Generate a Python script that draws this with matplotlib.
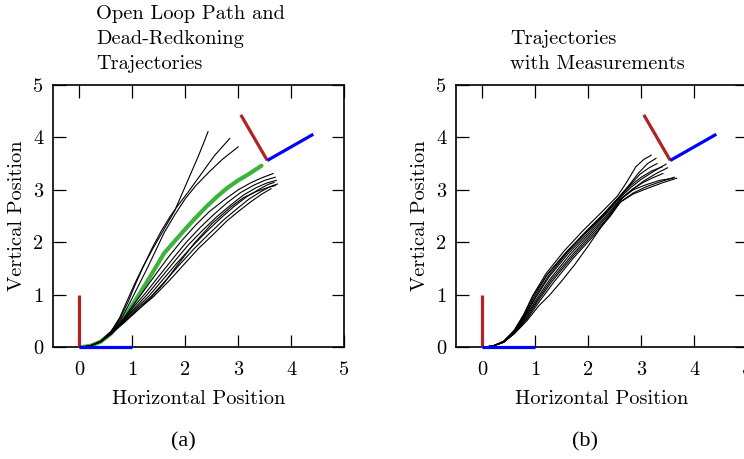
import matplotlib
matplotlib.use("Agg")
import matplotlib.pyplot as plt

# ---------------- data ----------------
tick_values = [0, 1, 2, 3, 4, 5]
tick_labels = ["0", "1", "2", "3", "4", "5"]

# body frames (start pose and goal pose), unit-length axes
frame_start = (0.0, 0.0)
frame_start_xaxis = (1.0, 0.0)
frame_start_yaxis = (0.0, 1.0)
frame_goal = (3.55, 3.56)
frame_goal_xaxis = (4.42, 4.06)
frame_goal_yaxis = (3.05, 4.43)

# open loop path (panel a)
open_x = [0.05, 0.2, 0.4, 0.6, 0.78, 0.95, 1.1, 1.25, 1.4, 1.6, 1.8, 2.0, 2.2, 2.4, 2.6, 2.8, 3.0, 3.2, 3.44]
open_y = [0.0, 0.02, 0.1, 0.26, 0.48, 0.72, 0.96, 1.2, 1.45, 1.79, 2.02, 2.25, 2.47, 2.68, 2.87, 3.04, 3.18, 3.3, 3.46]

# dead-reckoning trajectories (panel a)
dr1_x = [0.05, 0.2, 0.4, 0.6, 0.76, 0.9, 1.05, 1.2, 1.4, 1.6, 1.8, 1.95, 2.1, 2.25, 2.35, 2.43]
dr1_y = [0.0, 0.02, 0.11, 0.3, 0.56, 0.88, 1.22, 1.53, 1.9, 2.25, 2.6, 2.95, 3.3, 3.65, 3.9, 4.11]
dr2_x = [0.05, 0.2, 0.4, 0.6, 0.77, 0.92, 1.05, 1.2, 1.38, 1.55, 1.72, 1.86, 2.05, 2.3, 2.55, 2.84]
dr2_y = [0.0, 0.02, 0.11, 0.3, 0.55, 0.86, 1.18, 1.52, 1.9, 2.22, 2.5, 2.7, 2.95, 3.3, 3.65, 3.98]
dr3_x = [0.05, 0.2, 0.4, 0.6, 0.78, 0.95, 1.12, 1.28, 1.45, 1.6, 1.8, 2.0, 2.2, 2.45, 2.7, 3.0]
dr3_y = [0.0, 0.02, 0.1, 0.28, 0.52, 0.84, 1.18, 1.5, 1.86, 2.18, 2.52, 2.83, 3.08, 3.34, 3.58, 3.82]
dr4_x = [0.05, 0.2, 0.4, 0.6, 0.8, 1.0, 1.2, 1.45, 1.7, 1.95, 2.2, 2.45, 2.74, 3.0, 3.25, 3.45, 3.66]
dr4_y = [0.0, 0.02, 0.1, 0.27, 0.5, 0.78, 1.05, 1.4, 1.74, 2.05, 2.33, 2.58, 2.81, 3.0, 3.14, 3.23, 3.31]
dr5_x = [0.05, 0.2, 0.4, 0.6, 0.8, 1.02, 1.25, 1.5, 1.76, 2.02, 2.28, 2.54, 2.8, 3.05, 3.3, 3.5, 3.7]
dr5_y = [0.0, 0.02, 0.1, 0.26, 0.49, 0.76, 1.03, 1.35, 1.68, 2.0, 2.28, 2.53, 2.76, 2.95, 3.09, 3.18, 3.24]
dr6_x = [0.05, 0.2, 0.4, 0.6, 0.8, 1.04, 1.28, 1.54, 1.8, 2.06, 2.34, 2.6, 2.86, 3.1, 3.34, 3.54, 3.72]
dr6_y = [0.0, 0.02, 0.1, 0.26, 0.48, 0.74, 1.0, 1.32, 1.64, 1.95, 2.24, 2.49, 2.71, 2.9, 3.04, 3.13, 3.18]
dr7_x = [0.05, 0.2, 0.4, 0.6, 0.81, 1.06, 1.32, 1.58, 1.85, 2.12, 2.4, 2.66, 2.92, 3.15, 3.38, 3.56, 3.68]
dr7_y = [0.0, 0.02, 0.1, 0.26, 0.48, 0.73, 0.98, 1.29, 1.61, 1.91, 2.2, 2.45, 2.68, 2.86, 3.0, 3.1, 3.14]
dr8_x = [0.05, 0.2, 0.4, 0.6, 0.82, 1.08, 1.36, 1.63, 1.9, 2.18, 2.46, 2.72, 2.98, 3.2, 3.42, 3.6, 3.74]
dr8_y = [0.0, 0.02, 0.1, 0.25, 0.47, 0.72, 0.97, 1.27, 1.58, 1.89, 2.17, 2.42, 2.64, 2.82, 2.96, 3.06, 3.11]
dr9_x = [0.05, 0.2, 0.4, 0.6, 0.83, 1.1, 1.4, 1.7, 1.98, 2.25, 2.52, 2.78, 3.02, 3.25, 3.45, 3.62]
dr9_y = [0.0, 0.02, 0.1, 0.25, 0.47, 0.71, 0.96, 1.27, 1.58, 1.88, 2.14, 2.4, 2.6, 2.78, 2.92, 3.02]
dr10_x = [0.05, 0.2, 0.4, 0.6, 0.84, 1.1, 1.35, 1.6, 1.85, 2.17, 2.5, 2.87, 3.1, 3.35, 3.55, 3.7]
dr10_y = [0.0, 0.02, 0.1, 0.25, 0.46, 0.7, 0.94, 1.22, 1.56, 1.98, 2.35, 2.68, 2.85, 2.97, 3.04, 3.08]

# trajectories with measurements (panel b)
m1_x = [0.05, 0.2, 0.4, 0.6, 0.78, 0.95, 1.2, 1.55, 1.9, 2.25, 2.55, 2.71, 2.9, 3.05, 3.19]
m1_y = [0.0, 0.02, 0.11, 0.32, 0.62, 0.98, 1.4, 1.84, 2.22, 2.57, 2.88, 3.12, 3.44, 3.58, 3.66]
m2_x = [0.05, 0.2, 0.4, 0.6, 0.79, 0.97, 1.22, 1.58, 1.95, 2.28, 2.58, 2.78, 2.95, 3.12, 3.28]
m2_y = [0.0, 0.02, 0.1, 0.3, 0.6, 0.95, 1.37, 1.8, 2.2, 2.53, 2.86, 3.1, 3.32, 3.5, 3.6]
m3_x = [0.05, 0.2, 0.4, 0.6, 0.8, 1.0, 1.26, 1.62, 2.0, 2.3, 2.58, 2.8, 3.0, 3.25, 3.47]
m3_y = [0.0, 0.02, 0.1, 0.29, 0.58, 0.93, 1.34, 1.78, 2.18, 2.5, 2.83, 3.04, 3.2, 3.36, 3.49]
m4_x = [0.05, 0.2, 0.4, 0.6, 0.81, 1.02, 1.28, 1.65, 2.02, 2.32, 2.6, 2.85, 3.05, 3.3, 3.5]
m4_y = [0.0, 0.02, 0.1, 0.28, 0.57, 0.91, 1.3, 1.76, 2.16, 2.48, 2.82, 3.02, 3.17, 3.32, 3.42]
m5_x = [0.05, 0.2, 0.4, 0.6, 0.82, 1.04, 1.3, 1.68, 2.05, 2.35, 2.6, 2.82, 3.02, 3.22, 3.41]
m5_y = [0.0, 0.02, 0.09, 0.27, 0.56, 0.9, 1.28, 1.74, 2.15, 2.48, 2.8, 3.0, 3.13, 3.23, 3.31]
m6_x = [0.05, 0.2, 0.4, 0.6, 0.83, 1.05, 1.32, 1.7, 2.08, 2.4, 2.62, 2.85, 3.1, 3.38, 3.63]
m6_y = [0.0, 0.02, 0.09, 0.26, 0.54, 0.88, 1.26, 1.72, 2.14, 2.5, 2.78, 2.94, 3.06, 3.16, 3.24]
m7_x = [0.05, 0.2, 0.4, 0.6, 0.84, 1.07, 1.35, 1.72, 2.1, 2.42, 2.6, 2.85, 3.15, 3.42, 3.67]
m7_y = [0.0, 0.02, 0.09, 0.26, 0.53, 0.86, 1.24, 1.7, 2.12, 2.5, 2.76, 2.92, 3.04, 3.14, 3.22]
m8_x = [0.05, 0.2, 0.4, 0.6, 0.8, 1.0, 1.25, 1.6, 1.98, 2.3, 2.58, 2.8, 3.0, 3.2, 3.4]
m8_y = [0.0, 0.02, 0.1, 0.3, 0.6, 0.96, 1.36, 1.8, 2.2, 2.52, 2.85, 3.08, 3.24, 3.36, 3.44]
m9_x = [0.05, 0.2, 0.4, 0.6, 0.78, 0.96, 1.22, 1.6, 1.98, 2.3, 2.58, 2.78, 2.98, 3.15, 3.3]
m9_y = [0.0, 0.02, 0.11, 0.31, 0.61, 0.98, 1.38, 1.83, 2.22, 2.55, 2.86, 3.08, 3.3, 3.42, 3.5]
m10_x = [0.05, 0.2, 0.4, 0.6, 0.84, 1.06, 1.26, 1.49, 1.75, 2.0, 2.25, 2.52, 2.65, 2.85, 3.1, 3.35, 3.6]
m10_y = [0.0, 0.02, 0.09, 0.25, 0.5, 0.78, 0.98, 1.25, 1.58, 1.93, 2.3, 2.68, 2.85, 3.0, 3.1, 3.18, 3.22]

dead_reckoning = [(dr1_x, dr1_y), (dr2_x, dr2_y), (dr3_x, dr3_y), (dr4_x, dr4_y), (dr5_x, dr5_y),
                  (dr6_x, dr6_y), (dr7_x, dr7_y), (dr8_x, dr8_y), (dr9_x, dr9_y), (dr10_x, dr10_y)]
measured = [(m1_x, m1_y), (m2_x, m2_y), (m3_x, m3_y), (m4_x, m4_y), (m5_x, m5_y),
            (m6_x, m6_y), (m7_x, m7_y), (m8_x, m8_y), (m9_x, m9_y), (m10_x, m10_y)]

title_a = "Open Loop Path and\nDead-Redkoning\nTrajectories"
title_b = "Trajectories\nwith Measurements"

# ---------------- style ----------------
plt.rcParams['font.family'] = ['cmr10', 'DejaVu Serif']
plt.rcParams['axes.formatter.use_mathtext'] = True
FS = 14.7
RED = "#b22222"
BLUE = "#0000ff"
GREEN = "#3cb43c"

fig = plt.figure(figsize=(7.44, 4.59), dpi=100)
W, H = 744.0, 459.0
axw, axh = 291 / W, 262 / H
bottom = 1 - 347 / H
ax_a = fig.add_axes([53 / W, bottom, axw, axh])
ax_b = fig.add_axes([456 / W, bottom, axw, axh])


def draw_frames(ax):
    ax.plot([frame_start[0], frame_start_yaxis[0]], [frame_start[1], frame_start_yaxis[1]],
            color=RED, lw=2.3, solid_capstyle='butt', zorder=4, clip_on=False)
    ax.plot([frame_start[0], frame_start_xaxis[0]], [frame_start[1], frame_start_xaxis[1]],
            color=BLUE, lw=2.3, solid_capstyle='butt', zorder=4, clip_on=False)
    ax.plot([frame_goal[0], frame_goal_yaxis[0]], [frame_goal[1], frame_goal_yaxis[1]],
            color=RED, lw=2.3, solid_capstyle='butt', zorder=4)
    ax.plot([frame_goal[0], frame_goal_xaxis[0]], [frame_goal[1], frame_goal_xaxis[1]],
            color=BLUE, lw=2.3, solid_capstyle='butt', zorder=4)


def style_axes(ax, title, title_x):
    ax.set_xlim(-0.5, 5.0)
    ax.set_ylim(0, 5)
    ax.set_xticks(tick_values)
    ax.set_xticklabels(tick_labels)
    ax.set_yticks(tick_values)
    ax.set_yticklabels(tick_labels)
    ax.tick_params(direction='in', top=True, right=True, length=9, width=0.9,
                   labelsize=FS, pad=7)
    ax.tick_params(axis='x', pad=10)
    for s in ax.spines.values():
        s.set_linewidth(1.2)
    ax.set_xlabel("Horizontal Position", fontsize=FS, labelpad=8)
    ax.set_ylabel("Vertical Position", fontsize=FS, labelpad=5)
    ax.text(title_x, 1.045, title, transform=ax.transAxes, ha='left', va='bottom',
            multialignment='left', fontsize=FS, linespacing=1.5)


for xs, ys in dead_reckoning:
    ax_a.plot(xs, ys, color='black', lw=0.8, zorder=3)
ax_a.plot(open_x, open_y, color=GREEN, lw=3.0, zorder=2, solid_capstyle='round')
draw_frames(ax_a)
style_axes(ax_a, title_a, 0.148)

for xs, ys in measured:
    ax_b.plot(xs, ys, color='black', lw=0.8, zorder=2)
draw_frames(ax_b)
style_axes(ax_b, title_b, 0.186)

fig.text(183 / W, 1 - 442 / H, "(a)", ha='center', va='center', fontsize=16,
         family=['Liberation Serif', 'DejaVu Serif'])
fig.text(585 / W, 1 - 442 / H, "(b)", ha='center', va='center', fontsize=16,
         family=['Liberation Serif', 'DejaVu Serif'])

fig.savefig("out.png", dpi=100)
